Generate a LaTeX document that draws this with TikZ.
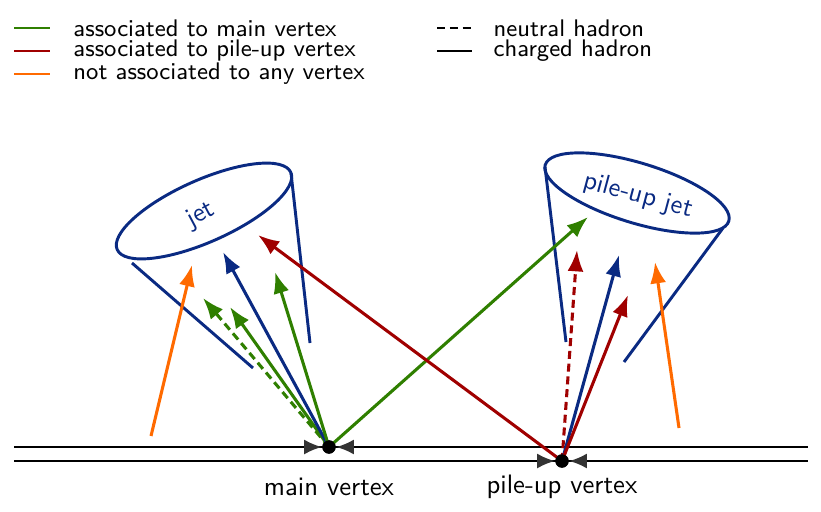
\documentclass[tikz,border=0pt]{standalone}
\usetikzlibrary{positioning,arrows.meta,calc}
\definecolor{MainGreen}{HTML}{2F7F00}
\definecolor{PileRed}{HTML}{A00000}
\definecolor{JetBlue}{HTML}{0A2A82}
\definecolor{FreeOrange}{HTML}{FF6A00}
\definecolor{TipGray}{HTML}{333333}

\begin{document}
\begin{tikzpicture}[x=0.375pt, y=0.375pt,
    font=\sffamily,
    track/.style={-{Latex[length=8pt,width=6pt]}, line width=1.15pt},
    neutral/.style={track, dash pattern=on 3pt off 1.8pt},
    beam/.style={line width=0.8pt},
    vtx/.style={circle, fill=black, inner sep=0pt, minimum size=5pt},
    vtxtip/.style={-{Latex[length=6.6pt,width=5.6pt]}, TipGray, line width=0.8pt},
    cone/.style={JetBlue, line width=1.1pt},
    key/.style={line width=1.1pt},
    keytext/.style={inner sep=0pt, font=\sffamily\small}
]
\useasboundingbox (0,0) rectangle (821,511);

% legend
\coordinate (k1a) at (14,483);  \coordinate (k1b) at (50,483);
\coordinate (k2a) at (14,460);  \coordinate (k2b) at (50,460);
\coordinate (k3a) at (14,437);  \coordinate (k3b) at (50,437);
\coordinate (k4a) at (437,483); \coordinate (k4b) at (472,483);
\coordinate (k5a) at (437,460); \coordinate (k5b) at (472,460);
\draw[key, MainGreen] (k1a) -- (k1b);
\draw[key, PileRed] (k2a) -- (k2b);
\draw[key, FreeOrange] (k3a) -- (k3b);
\draw[key, dash pattern=on 3pt off 1.8pt] (k4a) -- (k4b);
\draw[key] (k5a) -- (k5b);
\node[keytext, right=8.6pt of k1b] (k1t) {associated to main vertex};
\node[keytext, right=8.6pt of k2b] (k2t) {associated to pile-up vertex};
\node[keytext, right=8.6pt of k3b] (k3t) {not associated to any vertex};
\node[keytext, right=7.9pt of k4b] (k4t) {neutral hadron};
\node[keytext, right=7.9pt of k5b] (k5t) {charged hadron};

% beam lines and vertices
\coordinate (bu1) at (14,64);  \coordinate (bu2) at (808,64);
\coordinate (bl1) at (14,50);  \coordinate (bl2) at (808,50);
\draw[beam] (bu1) -- (bu2);
\draw[beam] (bl1) -- (bl2);
\node[vtx] (mv) at (329,64) {};
\node[vtx] (pv) at (562,50) {};
\coordinate (mvl) at (304,64); \coordinate (mvr) at (354,64);
\coordinate (pvl) at (537,50); \coordinate (pvr) at (587,50);
\draw[vtxtip] (mvl) -- (mv);
\draw[vtxtip] (mvr) -- (mv);
\draw[vtxtip] (pvl) -- (pv);
\draw[vtxtip] (pvr) -- (pv);
\node (mvt) at (329,24) {main vertex};
\node (pvt) at (562,24) {pile-up vertex};

% jets
\coordinate (jc) at (204,300);
\draw[cone, rotate around={24:(jc)}] (jc) ellipse [x radius=95, y radius=31];
\node[JetBlue, rotate=28, inner sep=1pt] (jt) at (201,296) {jet};
\coordinate (jl1) at (132,248); \coordinate (jl2) at (253,143);
\coordinate (jr1) at (291,338); \coordinate (jr2) at (310,168);
\draw[cone] (jl1) -- (jl2);
\draw[cone] (jr1) -- (jr2);

\coordinate (pc) at (637,318);
\draw[cone, rotate around={-17:(pc)}] (pc) ellipse [x radius=96, y radius=30];
\node[JetBlue, rotate=-15, inner sep=1pt] (pt) at (638,315) {pile-up jet};
\coordinate (pl1) at (545,344); \coordinate (pl2) at (566,169);
\coordinate (pr1) at (723,283); \coordinate (pr2) at (624,149);
\draw[cone] (pl1) -- (pl2);
\draw[cone] (pr1) -- (pr2);

% tracks
\coordinate (g1) at (203,213);
\coordinate (g2) at (230,204);
\coordinate (b1) at (223,259);
\coordinate (g3) at (275,239);
\coordinate (g4) at (588,294);
\coordinate (r1) at (258,276);
\coordinate (r2) at (577,261);
\coordinate (b2) at (619,256);
\coordinate (r3) at (628,216);
\coordinate (o1a) at (151,75);  \coordinate (o1b) at (192,246);
\coordinate (o2a) at (679,83);  \coordinate (o2b) at (655,249);

\draw[neutral, MainGreen] (mv.center) -- (g1);
\draw[track, MainGreen] (mv.center) -- (g2);
\draw[track, JetBlue] (mv.center) -- (b1);
\draw[track, MainGreen] (mv.center) -- (g3);
\draw[track, MainGreen] (mv.center) -- (g4);
\draw[track, PileRed] (pv.center) -- (r1);
\draw[neutral, PileRed] (pv.center) -- (r2);
\draw[track, JetBlue] (pv.center) -- (b2);
\draw[track, PileRed] (pv.center) -- (r3);
\draw[track, FreeOrange] (o1a) -- (o1b);
\draw[track, FreeOrange] (o2a) -- (o2b);
\node[vtx] at (mv) {};
\node[vtx] at (pv) {};
\end{tikzpicture}
\end{document}
